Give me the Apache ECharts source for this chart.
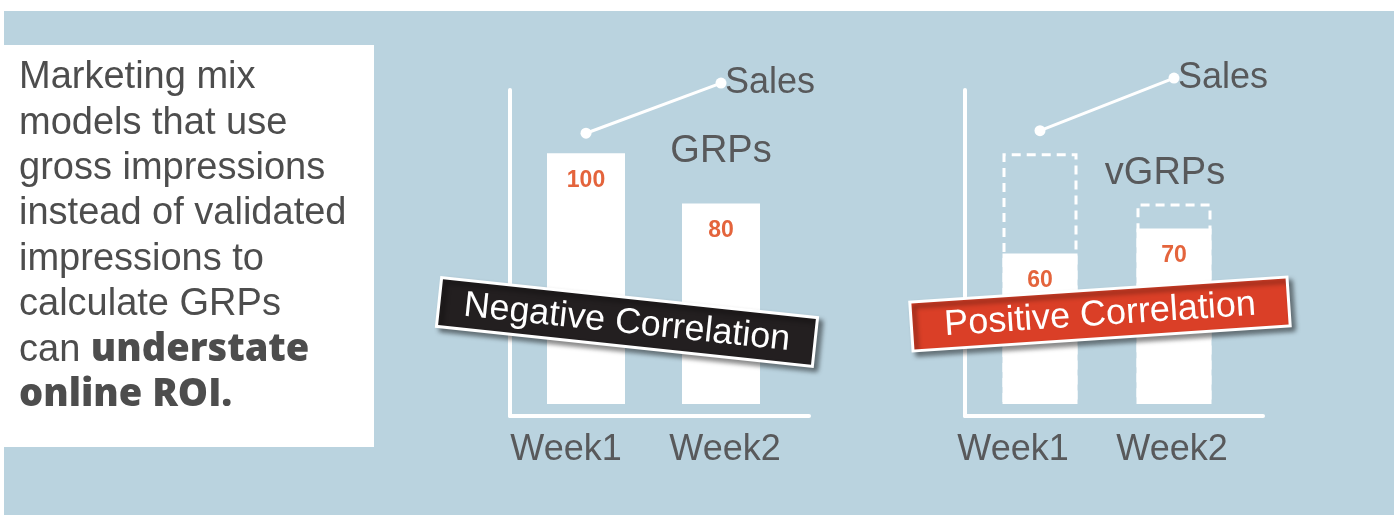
<!DOCTYPE html>
<html>
<head>
<meta charset="utf-8">
<script src="https://cdn.jsdelivr.net/npm/echarts@6/dist/echarts.min.js"></script>
<style>
  html, body { margin: 0; padding: 0; background: #fff; }
  #chart { width: 1394px; height: 516px; }
</style>
</head>
<body>
<div id="chart"></div>
<script>
// data
const weeks = ['Week1', 'Week2']
const grpsValues = [100, 80]       // left chart bars
const vgrpsValues = [60, 70]       // right chart solid bars
const grpsGhost = [100, 80]        // right chart dashed outlines
const salesLeft = [108, 128]
const salesRight = [109, 130]
const bannerTexts = ['Negative Correlation', 'Positive Correlation']
const barNames = ['GRPs', 'vGRPs']
const bodyLines = [
  'Marketing mix',
  'models that use',
  'gross impressions',
  'instead of validated',
  'impressions to',
  'calculate GRPs',
  'can {b|understate}',
  '{b|online ROI.}',
]

const BLUE = '#bad3df'
const GREY = '#58595b'
const ORANGE = '#e4643c'
const FONT = '"Liberation Sans", Arial, sans-serif'

const chart = echarts.init(document.getElementById('chart'))

// frame grids carry the white L-shaped axes, bar grids carry the series
const frameAxis = (gridIndex) => ({
  gridIndex, type: 'value', min: 0, max: 1,
  axisLine: { show: true, lineStyle: { color: '#fff', width: 4 } },
  axisTick: { show: false }, axisLabel: { show: false }, splitLine: { show: false },
})
// labels in the original sit a bit left of the bar centres
const barX = (gridIndex, shifts) => ({
  gridIndex, type: 'category',
  data: weeks.map((w, i) => ({
    value: w,
    textStyle: { padding: shifts[i] < 0 ? [0, -2 * shifts[i], 0, 0] : [0, 0, 0, 2 * shifts[i]] },
  })),
  axisLine: { show: false }, axisTick: { show: false },
  axisLabel: { interval: 0, color: GREY, fontSize: 36, fontFamily: FONT, margin: 28 },
})
const barY = (gridIndex) => ({
  gridIndex, type: 'value', min: 0, max: 140,
  axisLine: { show: false }, axisTick: { show: false },
  axisLabel: { show: false }, splitLine: { show: false },
})
const valueLabel = {
  show: true, position: 'insideTop', distance: 16,
  color: ORANGE, fontSize: 23, fontWeight: 'bold', fontFamily: FONT,
}
const salesSeries = (idx, data) => ({
  type: 'line', name: 'Sales', xAxisIndex: idx, yAxisIndex: idx, data,
  clip: false, symbol: 'circle', symbolSize: 11,
  lineStyle: { color: '#fff', width: 3 }, itemStyle: { color: '#fff' },
  endLabel: {
    show: true, formatter: '{a}', distance: 4,
    color: GREY, fontSize: 36, fontFamily: FONT,
  },
  z: 5,
})

const banner = (cx, cy, angleDeg, fill, text) => ({
  type: 'group', x: cx, y: cy, rotation: angleDeg * Math.PI / 180, z: 100, zlevel: 1,
  children: [
    {
      type: 'rect', z: 100, zlevel: 1,
      shape: { x: -189, y: -24.5, width: 378, height: 49 },
      style: {
        fill, stroke: '#fff', lineWidth: 3,
        shadowColor: 'rgba(0,0,0,0.45)', shadowBlur: 5, shadowOffsetX: 4, shadowOffsetY: 4,
      },
    },
    {
      type: 'text', z: 101, zlevel: 1,
      style: {
        text, x: 0, y: 1, align: 'center', verticalAlign: 'middle',
        fill: '#fff', fontSize: 36, fontFamily: FONT,
      },
    },
  ],
})

const option = {
  backgroundColor: BLUE,
  animation: false,
  grid: [
    { left: 510, top: 90, width: 299, height: 326 },
    { left: 518.5, top: 53, width: 270, height: 351 },
    { left: 965, top: 90, width: 298, height: 326 },
    { left: 973, top: 53, width: 268, height: 351 },
  ],
  xAxis: [frameAxis(0), barX(1, [-20, 4]), frameAxis(2), barX(3, [-27, -2])],
  yAxis: [frameAxis(0), barY(1), frameAxis(2), barY(3)],
  series: [
    {
      type: 'bar', name: barNames[0], xAxisIndex: 1, yAxisIndex: 1,
      data: grpsValues, barWidth: 78,
      itemStyle: { color: '#fff' }, label: valueLabel,
    },
    salesSeries(1, salesLeft),
    {
      type: 'bar', name: 'GRPs', xAxisIndex: 3, yAxisIndex: 3,
      data: grpsGhost, barWidth: 75, barGap: '-100%',
      itemStyle: { color: 'transparent', borderColor: '#fff', borderWidth: 3, borderType: [9, 6] },
    },
    {
      type: 'bar', name: barNames[1], xAxisIndex: 3, yAxisIndex: 3,
      data: vgrpsValues, barWidth: 75, barGap: '-100%',
      itemStyle: { color: '#fff', borderColor: '#fff', borderWidth: 3 }, label: valueLabel,
    },
    salesSeries(3, salesRight),
  ],
  graphic: [
    // white page edges around the blue panel
    { type: 'rect', shape: { x: 0, y: 0, width: 1394, height: 11 }, style: { fill: '#fff' } },
    { type: 'rect', shape: { x: 0, y: 0, width: 4, height: 516 }, style: { fill: '#fff' } },
    { type: 'rect', shape: { x: 0, y: 515, width: 1394, height: 1 }, style: { fill: '#fff' } },
    // text box
    { type: 'rect', shape: { x: 4, y: 45, width: 370, height: 402 }, style: { fill: '#fff' } },
    {
      type: 'text', x: 19, y: 55,
      style: {
        text: bodyLines.join('\n'),
        fill: '#4d4d4d', fontSize: 38, fontFamily: FONT, lineHeight: 45.4,
        rich: {
          b: { fontSize: 38, fontFamily: '"Open Sans", "DejaVu Sans", sans-serif', fontWeight: 800, fill: '#4d4d4d', lineHeight: 45.4 },
        },
      },
    },
    // series captions
    { type: 'text', x: 721, y: 152, style: { text: barNames[0], align: 'center', verticalAlign: 'middle', fill: GREY, fontSize: 38, fontFamily: FONT } },
    { type: 'text', x: 1165, y: 174, style: { text: barNames[1], align: 'center', verticalAlign: 'middle', fill: GREY, fontSize: 38, fontFamily: FONT } },
    banner(627, 322, -6.07, '#231f20', bannerTexts[0]),
    banner(1100, 314, 3.8, '#da3f27', bannerTexts[1]),
  ],
}

chart.setOption(option)
</script>
</body>
</html>
